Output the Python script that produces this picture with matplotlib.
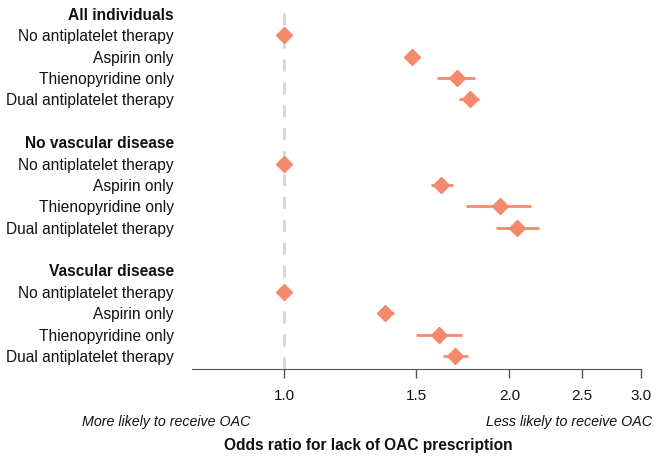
import numpy as np
import matplotlib
matplotlib.use("Agg")
from matplotlib import pyplot as plt

plt.rcParams['font.family'] = ['Liberation Sans', 'DejaVu Sans']

groups = ["All individuals", "No vascular disease", "Vascular disease"]
therapies = ["No antiplatelet therapy", "Aspirin only",
             "Thienopyridine only", "Dual antiplatelet therapy"]

# odds ratio, lower CI, upper CI per group (rows follow `therapies`)
or_all = [1.00, 1.48, 1.70, 1.77]
lo_all = [1.00, 1.45, 1.60, 1.71]
hi_all = [1.00, 1.52, 1.80, 1.82]

or_novasc = [1.00, 1.62, 1.94, 2.05]
lo_novasc = [1.00, 1.57, 1.75, 1.92]
hi_novasc = [1.00, 1.68, 2.14, 2.19]

or_vasc = [1.00, 1.365, 1.61, 1.69]
lo_vasc = [1.00, 1.33, 1.50, 1.63]
hi_vasc = [1.00, 1.40, 1.73, 1.76]

x_ticks = [1.0, 1.5, 2.0, 2.5, 3.0]

color = "#F4896B"

fig = plt.figure(figsize=(6.6, 4.61), dpi=100)
ax = fig.add_axes([192 / 660, 1 - 369 / 461, 449 / 660, 364 / 461])

ylabels = []
bold_rows = []
row = 0
for g, (est, lo, hi) in zip(groups, [(or_all, lo_all, hi_all),
                                     (or_novasc, lo_novasc, hi_novasc),
                                     (or_vasc, lo_vasc, hi_vasc)]):
    ylabels.append(g)
    bold_rows.append(row)
    row += 1
    ys = np.arange(row, row + len(therapies))
    est = np.array(est)
    err = np.vstack([est - np.array(lo), np.array(hi) - est])
    ax.errorbar(est, ys, xerr=err, fmt="D", color=color, ms=8,
                elinewidth=2, capsize=0, mec=color, zorder=3)
    ylabels.extend(therapies)
    row += len(therapies)
    if row < 16:
        ylabels.append("")
        row += 1

ax.axvline(1.0, color="#d9d9d9", lw=2.2, ls=(0, (4, 3.5)), zorder=1)

ax.set_xscale("log")
ax.set_xlim(0.752, 3.0)
ax.set_xticks(x_ticks)
ax.set_xticklabels(["%.1f" % t for t in x_ticks])
ax.minorticks_off()
ax.set_ylim(16.61, -0.42)

ax.set_yticks(np.arange(len(ylabels)))
ax.set_yticklabels(ylabels)
for i, lab in enumerate(ax.get_yticklabels()):
    if i in bold_rows:
        lab.set_fontweight("bold")
ax.tick_params(axis="y", length=0, pad=13, labelsize=11.2, labelcolor="#111111")
ax.tick_params(axis="x", length=6.5, width=1, color="#555555", pad=8,
               labelsize=11, labelcolor="#111111")

for s in ["top", "right", "left"]:
    ax.spines[s].set_visible(False)
ax.spines["bottom"].set_color("#555555")

fig.text(82 / 660, 1 - 422 / 461, "More likely to receive OAC", style="italic",
         fontsize=10.3, ha="left", va="center", color="#111111")
fig.text(652 / 660, 1 - 422 / 461, "Less likely to receive OAC", style="italic",
         fontsize=10.3, ha="right", va="center", color="#111111")
fig.text(368 / 660, 1 - 445 / 461, "Odds ratio for lack of OAC prescription",
         fontweight="bold", fontsize=11.2, ha="center", va="center", color="#111111")

fig.savefig("out.png", dpi=100)
